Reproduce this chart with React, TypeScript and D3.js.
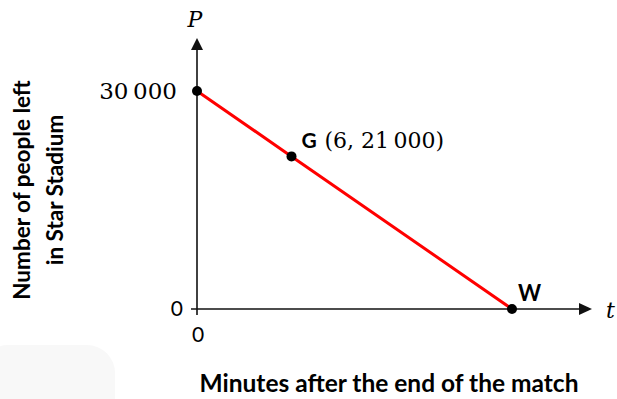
import React from "react";
import * as d3 from "d3";

// data
const minutes = [0, 6, 20];
const people = [30000, 21000, 0];
const pointNames = ["", "G", "W"];
const yTickValues = [0, 30000];
const xTickValues = [0];
const xTitle = "Minutes after the end of the match";
const yTitleLines = ["Number of people left", "in Star Stadium"];

const width = 617;
const height = 399;

const fmt = d3.formatLocale({
  decimal: ".",
  thousands: "\u2009",
  grouping: [3],
  currency: ["", ""],
}).format(",");

const serif = "'DejaVu Serif', serif";
const sans = "Lato, 'Open Sans', sans-serif";

const App = () => {
  const x = d3.scaleLinear().domain([0, 20]).range([197, 512]);
  const y = d3.scaleLinear().domain([0, 30000]).range([309, 91]);

  const data = minutes.map((t, i) => ({ t, p: people[i], name: pointNames[i] }));

  const line = d3
    .line<{ t: number; p: number }>()
    .x((d) => x(d.t))
    .y((d) => y(d.p));

  const x0 = x(0);
  const y0 = y(0);
  const yTop = 38;
  const xEnd = 592;

  return (
    <svg
      width={width}
      height={height}
      style={{ position: "absolute", left: 0, top: 0, background: "#fff" }}
    >
      {/* faint watermark */}
      <rect x={-20} y={345} width={135} height={90} rx={28} fill="#f8f8f8" />

      {/* axes */}
      <line x1={x0} y1={y0 + 6} x2={x0} y2={yTop + 10} stroke="#111" strokeWidth={1.6} />
      <path d={`M${x0},${yTop} L${x0 - 6},${yTop + 12} L${x0 + 6},${yTop + 12} Z`} fill="#111" />
      <line x1={x0 - 6} y1={y0} x2={xEnd - 10} y2={y0} stroke="#111" strokeWidth={1.6} />
      <path d={`M${xEnd},${y0} L${xEnd - 13},${y0 - 6} L${xEnd - 13},${y0 + 6} Z`} fill="#111" />

      {/* y ticks */}
      {yTickValues.map((v) =>
        v === 0 ? (
          <text key={v} x={x0 - 14} y={y(v) + 7} textAnchor="end" fontFamily={sans} fontSize={21}>
            {fmt(v)}
          </text>
        ) : (
          <text key={v} x={x0 - 20} y={y(v) + 8} textAnchor="end" fontFamily={serif} fontSize={23}>
            {fmt(v)}
          </text>
        )
      )}
      {/* x ticks */}
      {xTickValues.map((v) => (
        <text key={v} x={x(v) + 1} y={y0 + 33} textAnchor="middle" fontFamily={sans} fontSize={21}>
          {fmt(v)}
        </text>
      ))}

      {/* axis letters */}
      <text x={x0 - 2} y={27} textAnchor="middle" fontFamily={serif} fontStyle="italic" fontSize={22}>
        P
      </text>
      <text x={606} y={y0 + 9} fontFamily={serif} fontStyle="italic" fontSize={22}>
        t
      </text>

      {/* line */}
      <path d={line(data) || ""} fill="none" stroke="#ff0000" strokeWidth={3} />

      {/* points */}
      {data.map((d, i) => (
        <circle key={i} cx={x(d.t)} cy={y(d.p)} r={5} fill="#000" />
      ))}

      {/* point labels */}
      {data
        .filter((d) => d.name === "G")
        .map((d) => (
          <g key={d.name}>
            <text x={x(d.t) + 10} y={y(d.p) - 8} fontFamily={sans} fontWeight="bold" fontSize={21}>
              {d.name}
            </text>
            <text x={x(d.t) + 33} y={y(d.p) - 8} fontFamily={serif} fontSize={22}>
              ({d.t}, {fmt(d.p)})
            </text>
          </g>
        ))}
      {data
        .filter((d) => d.name === "W")
        .map((d) => (
          <text key={d.name} x={x(d.t) + 6} y={y(d.p) - 8} fontFamily={sans} fontWeight="bold" fontSize={22}>
            {d.name}
          </text>
        ))}

      {/* axis titles */}
      <text x={389} y={392} textAnchor="middle" fontFamily={sans} fontWeight="bold" fontSize={24.5}>
        {xTitle}
      </text>
      {yTitleLines.map((s, i) => (
        <text
          key={s}
          transform={`translate(${30 + i * 33},190) rotate(-90)`}
          textAnchor="middle"
          fontFamily={sans}
          fontWeight="bold"
          fontSize={22.5}
        >
          {s}
        </text>
      ))}
    </svg>
  );
};

export default App;
